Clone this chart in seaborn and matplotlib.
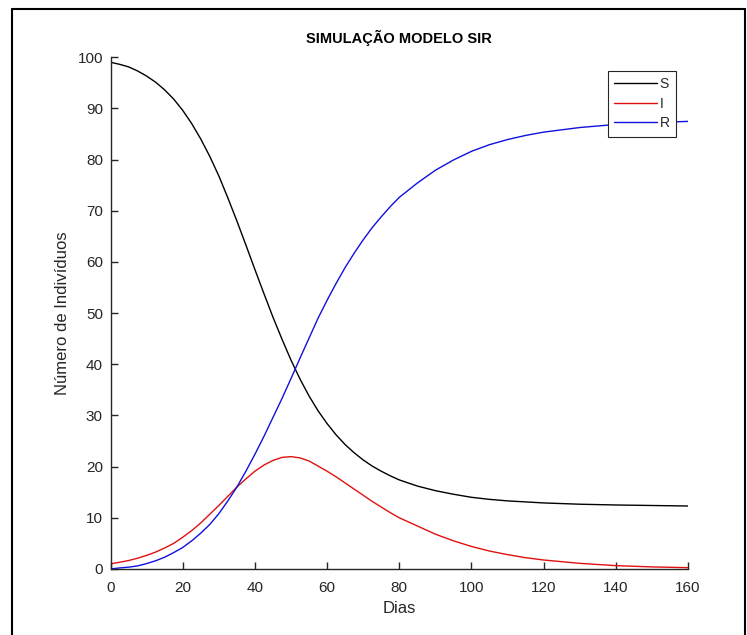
import pandas as pd
import matplotlib
matplotlib.use("Agg")
import matplotlib.pyplot as plt
import seaborn as sns
from matplotlib.lines import Line2D

# Values
dias = [0, 2.5, 5, 7.5, 10, 12.5, 15, 17.5, 20, 22.5, 25, 27.5, 30, 32.5, 35,
        37.5, 40, 42.5, 45, 47.5, 50, 52.5, 55, 57.5, 60, 62.5, 65, 67.5, 70,
        72.5, 75, 77.5, 80, 85, 90, 95, 100, 105, 110, 115, 120, 130, 140, 150, 160]
suscetiveis = [99.0, 98.6, 98.1, 97.3, 96.3, 95.1, 93.6, 91.8, 89.6, 87.0, 84.0,
               80.6, 76.8, 72.5, 68.0, 63.3, 58.5, 53.8, 49.2, 44.9, 40.8, 37.1,
               33.8, 30.9, 28.4, 26.2, 24.3, 22.7, 21.3, 20.1, 19.1, 18.2, 17.4,
               16.2, 15.3, 14.6, 14.0, 13.6, 13.3, 13.1, 12.9, 12.65, 12.5, 12.4, 12.3]
infectados = [1.0, 1.3, 1.65, 2.1, 2.65, 3.3, 4.1, 5.0, 6.2, 7.5, 9.0, 10.7,
              12.4, 14.2, 16.0, 17.6, 19.1, 20.3, 21.2, 21.8, 21.95, 21.7, 21.1,
              20.1, 19.1, 18.0, 16.8, 15.6, 14.4, 13.2, 12.1, 11.0, 10.0, 8.4,
              6.8, 5.5, 4.4, 3.5, 2.8, 2.2, 1.75, 1.1, 0.65, 0.4, 0.25]
recuperados = [0.0, 0.2, 0.35, 0.6, 1.05, 1.6, 2.3, 3.2, 4.2, 5.5, 7.0, 8.7,
               10.8, 13.3, 16.0, 19.1, 22.4, 25.9, 29.6, 33.3, 37.2, 41.2, 45.1,
               49.0, 52.5, 55.8, 58.9, 61.7, 64.3, 66.7, 68.8, 70.8, 72.6, 75.4,
               77.9, 79.9, 81.6, 82.9, 83.9, 84.7, 85.35, 86.25, 86.85, 87.2, 87.45]

df = pd.DataFrame({"Dias": dias * 3,
                   "valor": suscetiveis + infectados + recuperados,
                   "grupo": ["S"] * len(dias) + ["I"] * len(dias) + ["R"] * len(dias)})

sns.set_style("ticks")
plt.rcParams["font.family"] = ["Liberation Sans", "DejaVu Sans"]
texto = "#262626"

fig = plt.figure(figsize=(7.47, 6.35), dpi=100)
ax = fig.add_axes([0.148, 0.104, 0.773, 0.806])

cores = {"S": "black", "I": "#e01010", "R": "#1010e0"}
sns.lineplot(data=df, x="Dias", y="valor", hue="grupo", palette=cores,
             linewidth=1.0, ax=ax, legend=False)

ax.set_xlim(0, 160)
ax.set_ylim(0, 100)
ax.set_xticks(range(0, 161, 20))
ax.set_yticks(range(0, 101, 10))
ax.tick_params(direction="in", length=5, width=1, labelsize=11, colors=texto,
               labelcolor=texto)
ax.tick_params(axis="x", pad=9)
ax.tick_params(axis="y", pad=5.5)
for lado in ["top", "right"]:
    ax.spines[lado].set_visible(False)
for lado in ["left", "bottom"]:
    ax.spines[lado].set_color(texto)
    ax.spines[lado].set_linewidth(1)

ax.set_title("SIMULAÇÃO MODELO SIR", fontsize=10.5, fontweight="bold", color="black", pad=10)
ax.set_xlabel("Dias", fontsize=12, color=texto, labelpad=4)
ax.set_ylabel("Número de Indivíduos", fontsize=12, color=texto, labelpad=5)

handles = [Line2D([0], [0], color=cores[g], lw=1.0) for g in ["S", "I", "R"]]
leg = ax.legend(handles, ["S", "I", "R"], loc="upper right",
                bbox_to_anchor=(0.979, 0.973), borderaxespad=0, fontsize=10,
                handlelength=3.1, handletextpad=0.2, labelspacing=0.4,
                borderpad=0.45, fancybox=False, framealpha=1)
leg.get_frame().set_edgecolor(texto)
leg.get_frame().set_linewidth(0.8)

# moldura externa da imagem
W, H = 747, 635
for xs, ys in [([12, 12], [0, H - 9]), ([12, 745], [H - 9, H - 9]), ([745, 745], [0, H - 9])]:
    fig.add_artist(Line2D([x / W for x in xs], [y / H for y in ys],
                          color="black", lw=1.5, transform=fig.transFigure))

fig.savefig("out.png", dpi=100)
